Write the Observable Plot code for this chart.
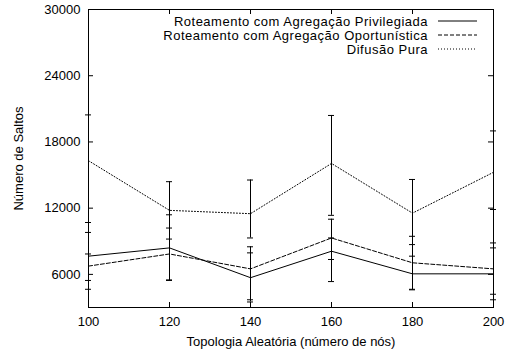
<!DOCTYPE html>
<html>
<head>
<meta charset="utf-8">
<script src="https://cdn.jsdelivr.net/npm/d3@7"></script>
<script src="https://cdn.jsdelivr.net/npm/@observablehq/plot@0.6"></script>
<style>
  html, body { margin: 0; padding: 0; background: #fff; }
  svg { font-family: "Liberation Sans", Arial, sans-serif; }
</style>
</head>
<body>
<div id="chart"></div>
<script>
const nodes = [100, 120, 140, 160, 180, 200];
const xTicks = [100, 120, 140, 160, 180, 200];
const yTicks = [6000, 12000, 18000, 24000, 30000];

const seriesNames = [
  "Roteamento com Agregação Privilegiada",
  "Roteamento com Agregação Oportunística",
  "Difusão Pura"
];
const privilegiada = [7650, 8400, 5700, 8100, 6050, 6050];
const privLow      = [5450, 5500, 3500, 5350, 4650, 3700];
const privHigh     = [9800, 11400, 7950, 9300, 7650, 8400];

const oportunistica = [6750, 7850, 6500, 9300, 7050, 6500];
const oporLow       = [4650, 5450, 3700, 7350, 4600, 4200];
const oporHigh      = [7850, 10200, 8500, 11000, 9450, 8850];

const difusao = [16300, 11800, 11500, 16050, 11550, 15250];
const difLow  = [10700, 9200, 9300, 11350, 8700, 11880];
const difHigh = [20450, 14400, 14550, 20400, 14600, 19000];

const dashes = [null, "4,2", "1,2"];

function rows(vals, lo, hi, s) {
  return nodes.map((n, i) => ({x: n, y: vals[i], lo: lo[i], hi: hi[i], s}));
}
const series = [
  rows(privilegiada, privLow, privHigh, 0),
  rows(oportunistica, oporLow, oporHigh, 1),
  rows(difusao, difLow, difHigh, 2)
];
const all = series.flat();

const W = 506, H = 354, ML = 88, MR = 13, MT = 9, MB = 47;
const FW = W - ML - MR, FH = H - MT - MB, TK = 5;

const legend = (index, scales, values, dims) => {
  const g = d3.create("svg:g");
  seriesNames.forEach((name, i) => {
    const yy = dims.marginTop + 12 + 14 * i;
    g.append("text").attr("x", dims.width - dims.marginRight - 65).attr("y", yy)
      .attr("dy", "0.35em").attr("text-anchor", "end")
      .attr("font-size", 13).attr("letter-spacing", "0.5px").attr("fill", "#000").text(name);
    g.append("line")
      .attr("x1", dims.width - dims.marginRight - 55).attr("x2", dims.width - dims.marginRight - 16)
      .attr("y1", yy).attr("y2", yy).attr("stroke", "#000").attr("stroke-width", 1)
      .attr("stroke-dasharray", dashes[i]);
  });
  return g.node();
};

const plot = Plot.plot({
  width: W, height: H,
  marginLeft: ML, marginRight: MR, marginTop: MT, marginBottom: MB,
  style: {fontFamily: "'Liberation Sans', Arial, sans-serif", fontSize: "13px", color: "#000", background: "#fff"},
  x: {domain: [100, 200]},
  y: {domain: [3000, 30000]},
  marks: [
    Plot.axisX(xTicks, {tickSize: 0, tickPadding: 9, fontSize: 13, label: "Topologia Aleatória (número de nós)", labelAnchor: "center", labelOffset: 38, labelArrow: "none", tickFormat: d => String(d)}),
    Plot.axisY(yTicks, {tickSize: 0, tickPadding: 8, fontSize: 13, label: "Número de Saltos", labelAnchor: "center", labelOffset: 75, labelArrow: "none", tickFormat: d => String(d)}),
    // inward gnuplot-style ticks on all four sides
    Plot.ruleX(xTicks, {x: d => d, insetTop: FH - TK, stroke: "#000"}),
    Plot.ruleX(xTicks, {x: d => d, insetBottom: FH - TK, stroke: "#000"}),
    Plot.ruleY(yTicks, {y: d => d, insetRight: FW - TK, stroke: "#000"}),
    Plot.ruleY(yTicks, {y: d => d, insetLeft: FW - TK, stroke: "#000"}),
    // error bars
    Plot.ruleX(all, {x: "x", y1: "lo", y2: "hi", stroke: "#000", strokeWidth: 1}),
    Plot.ruleY(all, {y: "lo", x1: "x", x2: "x", insetLeft: -3, insetRight: -3, stroke: "#000"}),
    Plot.ruleY(all, {y: "hi", x1: "x", x2: "x", insetLeft: -3, insetRight: -3, stroke: "#000"}),
    // lines
    ...series.map((d, i) => Plot.line(d, {x: "x", y: "y", stroke: "#000", strokeWidth: 1, strokeDasharray: dashes[i]})),
    Plot.frame({stroke: "#000", strokeWidth: 1}),
    legend
  ]
});
document.getElementById("chart").appendChild(plot);
</script>
</body>
</html>
